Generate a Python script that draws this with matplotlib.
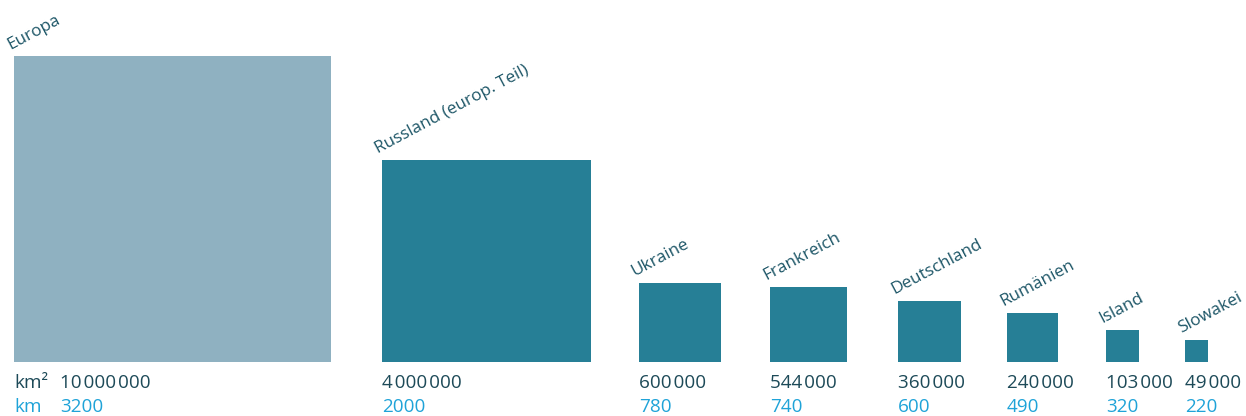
import matplotlib
matplotlib.use("Agg")
import matplotlib.pyplot as plt
from matplotlib.patches import Rectangle

# ---- data ----
countries = ["Europa", "Russland (europ. Teil)", "Ukraine", "Frankreich",
             "Deutschland", "Rumänien", "Island", "Slowakei"]
area_km2 = [10000000, 4000000, 600000, 544000, 360000, 240000, 103000, 49000]
side_km = [3200, 2000, 780, 740, 600, 490, 320, 220]

# ---- layout ----
W, H = 1246, 416
lefts = [14, 382, 639, 770, 898, 1007, 1106, 1185]   # px
base_y = 362                                          # px, bottom of squares
sx, sy = 0.1045, 0.101                                # px per km
max_w, max_h = 317, 306                               # cap for the Europa square

col_eu = "#8fb1c1"
col_c = "#267f96"
col_label = "#1d5667"
col_num = "#1d4a58"
col_km = "#1fa3d8"
fams = ["Open Sans", "DejaVu Sans"]

def fmt(n):
    return f"{n:,}".replace(",", "\u200a")

fig = plt.figure(figsize=(W / 100, H / 100), dpi=100)
ax = fig.add_axes([0, 0, 1, 1])
ax.set_xlim(0, W)
ax.set_ylim(H, 0)
ax.axis("off")

for i, (name, a, s) in enumerate(zip(countries, area_km2, side_km)):
    w = min(s * sx, max_w)
    h = min(s * sy, max_h)
    x0 = lefts[i]
    ax.add_patch(Rectangle((x0, base_y - h), w, h,
                           facecolor=col_eu if i == 0 else col_c, edgecolor="none"))
    ax.text(x0 - 4, base_y - h - 7, name, rotation=28, rotation_mode="anchor",
            ha="left", va="baseline", fontsize=12.3, color=col_label, family=fams)
    nx = x0 + (46 if i == 0 else 0)
    ax.text(nx, 388, fmt(a), ha="left", va="baseline", fontsize=13.6,
            color=col_num, family=fams)
    ax.text(nx, 412, str(s), ha="left", va="baseline", fontsize=13.6,
            color=col_km, family=fams)

ax.text(14, 388, "km²", ha="left", va="baseline", fontsize=13.6, color=col_num, family=fams)
ax.text(14, 412, "km", ha="left", va="baseline", fontsize=13.6, color=col_km, family=fams)

fig.savefig("out.png", dpi=100)
